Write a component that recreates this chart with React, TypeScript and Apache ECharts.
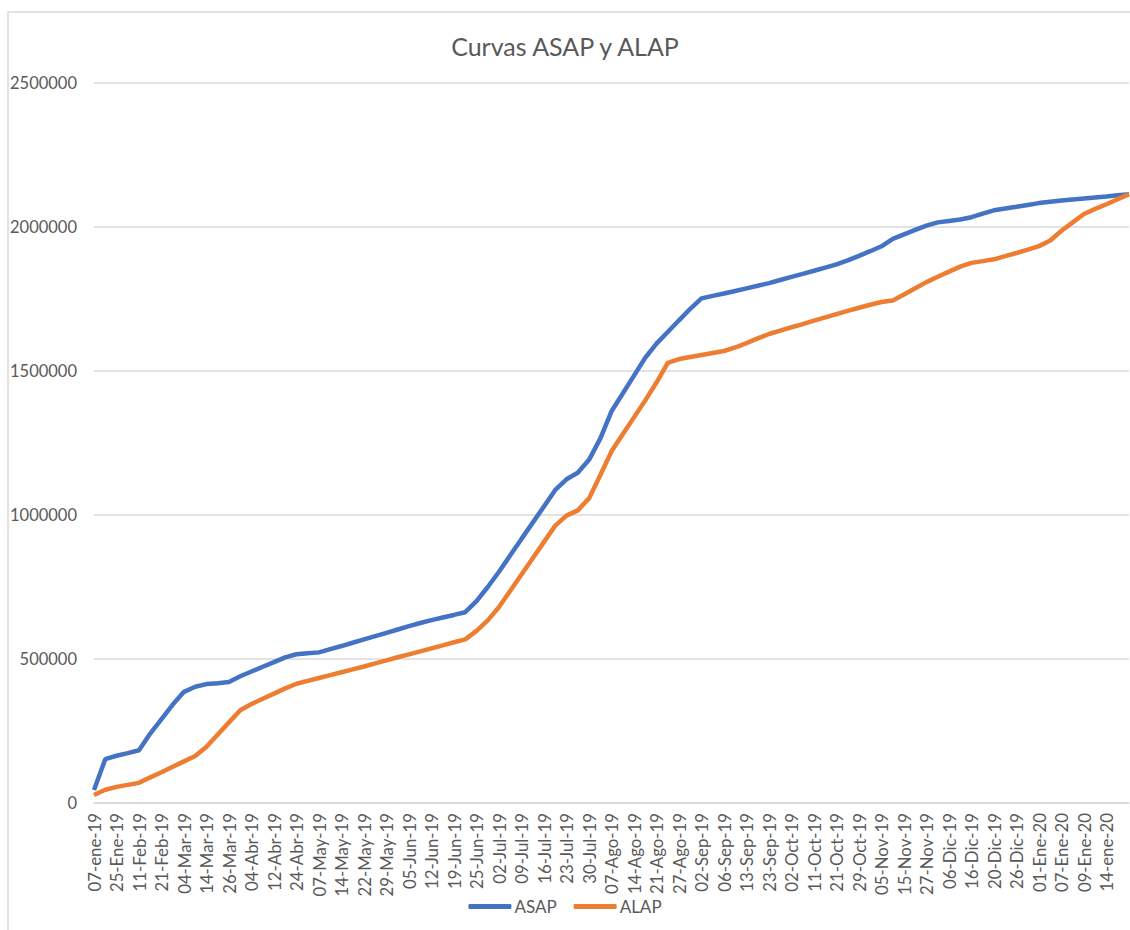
import React, { useEffect, useRef } from "react";
import * as echarts from "echarts";

const TITLE = "Curvas ASAP y ALAP";

// Visible date labels (every second data point carries one)
const tickLabels = [
  "07-ene-19", "25-Ene-19", "11-Feb-19", "21-Feb-19", "04-Mar-19", "14-Mar-19",
  "26-Mar-19", "04-Abr-19", "12-Abr-19", "24-Abr-19", "07-May-19", "14-May-19",
  "22-May-19", "29-May-19", "05-Jun-19", "12-Jun-19", "19-Jun-19", "25-Jun-19",
  "02-Jul-19", "09-Jul-19", "16-Jul-19", "23-Jul-19", "30-Jul-19", "07-Ago-19",
  "14-Ago-19", "21-Ago-19", "27-Ago-19", "02-Sep-19", "06-Sep-19", "13-Sep-19",
  "23-Sep-19", "02-Oct-19", "11-Oct-19", "21-Oct-19", "29-Oct-19", "05-Nov-19",
  "15-Nov-19", "27-Nov-19", "06-Dic-19", "16-Dic-19", "20-Dic-19", "26-Dic-19",
  "01-Ene-20", "07-Ene-20", "09-Ene-20", "14-ene-20",
];

const asap = [
  45000, 152000, 164000, 173000, 183000, 241000, 291500, 342000, 386000, 403500,
  412800, 416000, 420000, 440000, 456500, 473000, 489000, 505600, 516500, 520000,
  523000, 534000, 545000, 556500, 568000, 579500, 591000, 602500, 614000, 625000,
  635000, 644000, 653000, 662500, 701000, 750000, 803000, 860000, 917000, 973500,
  1030000, 1087000, 1124000, 1146500, 1191500, 1265000, 1360000, 1422000, 1484000, 1546000,
  1595000, 1635500, 1676000, 1716000, 1752000, 1761000, 1769000, 1778000, 1787000, 1796000,
  1805000, 1816000, 1827000, 1837500, 1848000, 1859000, 1870000, 1884000, 1900000, 1916000,
  1933000, 1959000, 1974500, 1990000, 2005000, 2016000, 2021000, 2026000, 2034000, 2046500,
  2058000, 2064000, 2070000, 2076500, 2083000, 2088000, 2092000, 2095500, 2099000, 2102500,
  2106000, 2110000, 2114000,
];

const alap = [
  28000, 46000, 56000, 63000, 70000, 89000, 107000, 126000, 144500, 163000,
  195500, 237700, 280000, 322000, 343600, 361700, 379900, 398000, 414000, 424000,
  434000, 444000, 454000, 464000, 474000, 485000, 495000, 506000, 516000, 526500,
  537000, 547500, 558000, 568000, 597500, 634000, 680600, 737000, 793600, 850000,
  906600, 963000, 997700, 1016000, 1057600, 1138000, 1221000, 1280000, 1339000, 1398000,
  1460000, 1528000, 1541500, 1548500, 1555500, 1562500, 1569500, 1581700, 1597000, 1613000,
  1628500, 1640400, 1652000, 1663000, 1675000, 1686000, 1697600, 1709000, 1719500, 1730000,
  1739700, 1744800, 1765400, 1787000, 1808500, 1827000, 1845000, 1862500, 1875500, 1881500,
  1887700, 1898600, 1909600, 1921400, 1933600, 1953000, 1987000, 2016000, 2045000, 2063000,
  2079000, 2096600, 2114000,
];

const Y_MIN = 0;
const Y_MAX = 2500000;
const Y_STEP = 500000;

export default function App() {
  const ref = useRef<HTMLDivElement>(null);

  useEffect(() => {
    if (!ref.current) return;
    const chart = echarts.init(ref.current, undefined, { renderer: "svg" });

    const categories: string[] = [];
    tickLabels.forEach((l) => {
      categories.push(l);
      categories.push("");
    });
    categories.push("");

    const font = "Lato, 'Open Sans', sans-serif";
    const textColor = "#595959";

    chart.setOption({
      animation: false,
      backgroundColor: "#ffffff",
      textStyle: { fontFamily: font },
      title: {
        text: TITLE,
        left: "center",
        top: 28,
        textStyle: { fontFamily: font, fontSize: 25, fontWeight: "normal", color: textColor },
      },
      graphic: [
        {
          type: "rect",
          shape: { x: 8, y: 12, width: 1200, height: 1000 },
          style: { fill: "none", stroke: "#d9d9d9", lineWidth: 1.5 },
          silent: true,
        },
      ],
      legend: {
        bottom: 10,
        left: "center",
        itemWidth: 43,
        itemHeight: 5,
        itemGap: 17,
        icon: "roundRect",
        textStyle: { fontFamily: font, fontSize: 17, color: textColor, padding: [0, 0, 0, -2] },
        data: ["ASAP", "ALAP"],
      },
      grid: { left: 94, right: 1, top: 83, bottom: 127 },
      xAxis: {
        type: "category",
        data: categories,
        boundaryGap: false,
        axisLine: { show: true, lineStyle: { color: "#d9d9d9", width: 1.5 } },
        axisTick: { show: false },
        axisLabel: {
          interval: 1,
          rotate: 90,
          margin: 10,
          fontFamily: font,
          fontSize: 16.8,
          color: textColor,
        },
        splitLine: { show: false },
      },
      yAxis: {
        type: "value",
        min: Y_MIN,
        max: Y_MAX,
        interval: Y_STEP,
        axisLine: { show: false },
        axisTick: { show: false },
        axisLabel: {
          margin: 17,
          fontFamily: font,
          fontSize: 16.5,
          color: textColor,
          formatter: (v: number) => String(v),
        },
        splitLine: { lineStyle: { color: "#d9d9d9", width: 1.5 } },
      },
      series: [
        {
          name: "ASAP",
          type: "line",
          data: asap,
          symbol: "none",
          lineStyle: { color: "#4472C4", width: 4.5 },
          itemStyle: { color: "#4472C4" },
        },
        {
          name: "ALAP",
          type: "line",
          data: alap,
          symbol: "none",
          lineStyle: { color: "#ED7D31", width: 4.5 },
          itemStyle: { color: "#ED7D31" },
        },
      ],
    });

    return () => chart.dispose();
  }, []);

  return (
    <div
      ref={ref}
      style={{ position: "absolute", left: 0, top: 0, width: 1130, height: 930 }}
    />
  );
}
